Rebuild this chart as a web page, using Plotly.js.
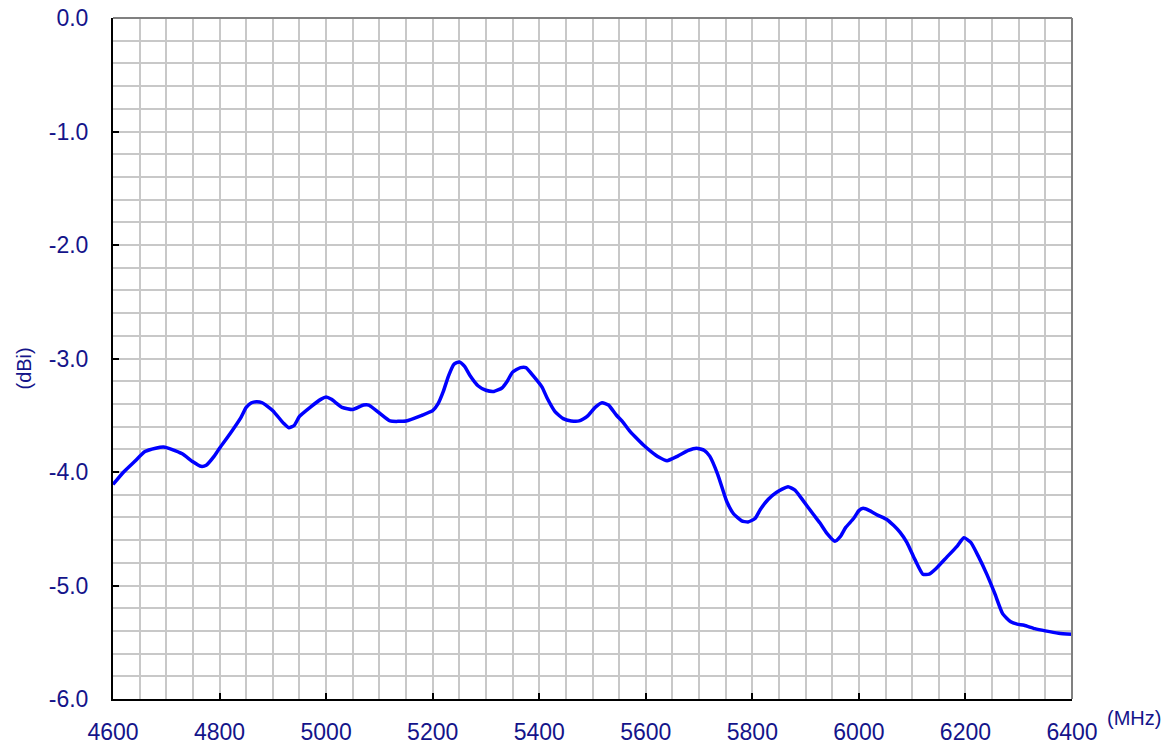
<!DOCTYPE html>
<html>
<head>
<meta charset="utf-8">
<script src="https://cdn.plot.ly/plotly-3.0.1.min.js"></script>
<style>html,body{margin:0;padding:0;background:#fff;}#chart{width:1167px;height:747px;}</style>
</head>
<body>
<div id="chart"></div>
<script>
const freqMHz = [4600,4620,4640,4660,4680,4695,4710,4730,4750,4765,4775,4790,4800,4820,4840,4850,4860,4870,4880,4900,4920,4930,4940,4950,4970,4990,5000,5010,5030,5050,5070,5080,5100,5120,5150,5180,5200,5210,5220,5230,5240,5250,5260,5270,5285,5300,5315,5330,5340,5350,5365,5375,5390,5405,5415,5430,5445,5460,5475,5490,5505,5518,5530,5545,5557,5570,5580,5595,5610,5625,5640,5660,5680,5695,5710,5720,5735,5752,5765,5780,5792,5805,5815,5830,5845,5867,5880,5895,5914,5927,5940,5955,5965,5975,5990,6000,6008,6020,6035,6053,6065,6077,6090,6105,6120,6132,6145,6165,6185,6197,6210,6225,6240,6255,6270,6285,6297,6310,6330,6350,6375,6400];
const gainDBi = [-4.11,-4.00,-3.91,-3.82,-3.79,-3.78,-3.80,-3.84,-3.91,-3.95,-3.94,-3.86,-3.79,-3.66,-3.52,-3.43,-3.39,-3.38,-3.39,-3.46,-3.57,-3.61,-3.59,-3.51,-3.43,-3.36,-3.34,-3.36,-3.43,-3.45,-3.41,-3.41,-3.48,-3.55,-3.55,-3.50,-3.46,-3.40,-3.29,-3.15,-3.05,-3.03,-3.07,-3.15,-3.24,-3.28,-3.29,-3.26,-3.20,-3.12,-3.08,-3.08,-3.16,-3.25,-3.35,-3.47,-3.53,-3.55,-3.55,-3.51,-3.43,-3.39,-3.41,-3.50,-3.56,-3.64,-3.69,-3.76,-3.82,-3.87,-3.90,-3.86,-3.81,-3.79,-3.81,-3.86,-4.02,-4.26,-4.37,-4.43,-4.44,-4.41,-4.33,-4.24,-4.18,-4.13,-4.16,-4.25,-4.37,-4.45,-4.54,-4.61,-4.57,-4.49,-4.41,-4.34,-4.32,-4.34,-4.38,-4.42,-4.47,-4.53,-4.62,-4.77,-4.90,-4.90,-4.85,-4.75,-4.65,-4.58,-4.62,-4.75,-4.90,-5.07,-5.25,-5.32,-5.34,-5.35,-5.38,-5.40,-5.42,-5.43];
const xTickVals = [4600,4800,5000,5200,5400,5600,5800,6000,6200,6400];
const xTickText = ['4600','4800','5000','5200','5400','5600','5800','6000','6200','6400'];
const yTickVals = [0,-1,-2,-3,-4,-5,-6];
const yTickText = ['0.0','-1.0','-2.0','-3.0','-4.0','-5.0','-6.0'];
const xUnit = '(MHz)';
const yUnit = '(dBi)';

const labelColor = '#14148a';
const fontFam = 'Liberation Sans, Arial, sans-serif';
const gridCol = '#c8c8c8';

const trace = {
  x: freqMHz, y: gainDBi, type: 'scatter', mode: 'lines',
  line: {color: '#0000ff', width: 3.5, shape: 'spline', smoothing: 0.5},
  hoverinfo: 'skip'
};

const layout = {
  width: 1167, height: 747,
  margin: {l: 113, r: 95, t: 18, b: 48, pad: 0},
  paper_bgcolor: '#ffffff', plot_bgcolor: '#ffffff',
  showlegend: false,
  xaxis: {
    range: [4600, 6400], tickmode: 'array', tickvals: xTickVals, ticktext: xTickText,
    showgrid: false,
    minor: {dtick: 50, tick0: 4600, showgrid: true, gridcolor: gridCol, gridwidth: 2, ticks: ''},
    ticks: 'inside', ticklen: 6, tickwidth: 2, tickcolor: '#000',
    showline: true, linecolor: '#000', linewidth: 2,
    zeroline: false,
    tickfont: {family: fontFam, size: 23, color: labelColor},
    ticklabelstandoff: 11,
    fixedrange: true
  },
  yaxis: {
    range: [-6, 0], tickmode: 'array', tickvals: yTickVals, ticktext: yTickText,
    showgrid: false,
    minor: {dtick: 0.2, tick0: 0, showgrid: true, gridcolor: gridCol, gridwidth: 2, ticks: ''},
    ticks: 'inside', ticklen: 6, tickwidth: 2, tickcolor: '#000',
    showline: true, linecolor: '#000', linewidth: 2,
    zeroline: false,
    tickfont: {family: fontFam, size: 23, color: labelColor},
    ticklabelstandoff: 18,
    fixedrange: true
  },
  shapes: [
    {type: 'line', xref: 'paper', yref: 'paper', x0: 0, x1: 1, y0: 1, y1: 1, line: {color: '#808080', width: 2}},
    {type: 'line', xref: 'paper', yref: 'paper', x0: 1, x1: 1, y0: 0, y1: 1, line: {color: '#808080', width: 2}}
  ],
  annotations: [
    {text: xUnit, xref: 'paper', yref: 'paper', x: 1.034, y: -0.028, xanchor: 'left', yanchor: 'middle', showarrow: false,
     font: {family: fontFam, size: 20, color: labelColor}},
    {text: yUnit, xref: 'paper', yref: 'paper', x: -0.093, y: 0.485, xanchor: 'center', yanchor: 'middle', textangle: -90, showarrow: false,
     font: {family: fontFam, size: 20, color: labelColor}}
  ]
};

Plotly.newPlot('chart', [trace], layout, {displayModeBar: false, staticPlot: true});
</script>
</body>
</html>
